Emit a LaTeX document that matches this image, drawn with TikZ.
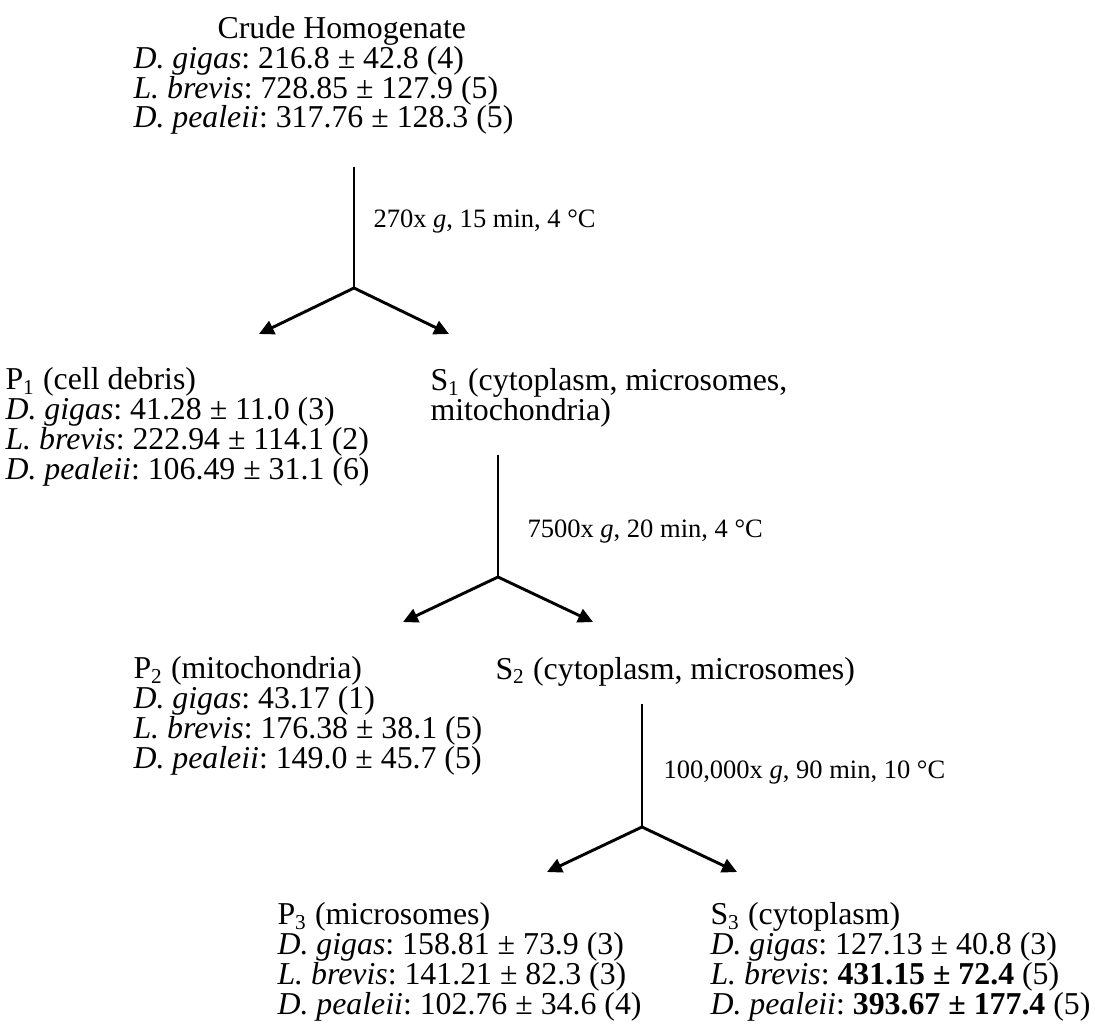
\documentclass[tikz,border=0pt]{standalone}
\usepackage{fontspec}
\setmainfont{Liberation Serif}
\usetikzlibrary{arrows.meta}
\setlength{\lineskiplimit}{-20pt}
\frenchspacing

\newcommand{\spn}[1]{\textit{#1}:}

\begin{document}
\begin{tikzpicture}[x=0.377pt,y=-0.377pt,
  fraction/.style={anchor=base west,align=left,inner sep=0pt,
    font=\fontsize{12}{11.2}\selectfont},
  spinlabel/.style={anchor=base west,inner sep=0pt,font=\fontsize{10}{12}\selectfont},
  stemline/.style={line width=1.1pt},
  splitarrow/.style={line width=1.1pt,-{Triangle[length=5.6pt,width=5.4pt]}}]
  \useasboundingbox (0,0) rectangle (1095,1034);

  % fractions, placed by the baseline of their last line
  \node[fraction] (crude) at (133,128) {\hspace*{31.7pt}Crude Homogenate\\
    \spn{D. gigas} 216.8 ± 42.8 (4)\\
    \spn{L. brevis} 728.85 ± 127.9 (5)\\
    \spn{D. pealeii} 317.76 ± 128.3 (5)};
  \node[fraction] (p1) at (5,479) {P\textsubscript{1} (cell debris)\\
    \spn{D. gigas} 41.28 ± 11.0 (3)\\
    \spn{L. brevis} 222.94 ± 114.1 (2)\\
    \spn{D. pealeii} 106.49 ± 31.1 (6)};
  \node[fraction] (s1) at (430,420) {S\textsubscript{1} (cytoplasm, microsomes,\\
    mitochondria)};
  \node[fraction] (p2) at (133,768) {P\textsubscript{2} (mitochondria)\\
    \spn{D. gigas} 43.17 (1)\\
    \spn{L. brevis} 176.38 ± 38.1 (5)\\
    \spn{D. pealeii} 149.0 ± 45.7 (5)};
  \node[fraction] (s2) at (495,679) {S\textsubscript{2} (cytoplasm, microsomes)};
  \node[fraction] (p3) at (277,1014) {P\textsubscript{3} (microsomes)\\
    \spn{D. gigas} 158.81 ± 73.9 (3)\\
    \spn{L. brevis} 141.21 ± 82.3 (3)\\
    \spn{D. pealeii} 102.76 ± 34.6 (4)};
  \node[fraction] (s3) at (710,1014) {S\textsubscript{3} (cytoplasm)\\
    \spn{D. gigas} 127.13 ± 40.8 (3)\\
    \spn{L. brevis} \textbf{431.15 ± 72.4} (5)\\
    \spn{D. pealeii} \textbf{393.67 ± 177.4} (5)};

  % spins
  \coordinate (top1) at (354,167);
  \coordinate (fork1) at (354,288);
  \coordinate (left1) at (259,334);
  \coordinate (right1) at (449,334);
  \coordinate (top2) at (498,455);
  \coordinate (fork2) at (498,577);
  \coordinate (left2) at (403,622);
  \coordinate (right2) at (593,622);
  \coordinate (top3) at (642,704);
  \coordinate (fork3) at (642,827);
  \coordinate (left3) at (547,872);
  \coordinate (right3) at (737,872);
  \foreach \i in {1,2,3}{
    \draw[stemline] (top\i) -- (fork\i);
    \draw[splitarrow] (fork\i) -- (left\i);
    \draw[splitarrow] (fork\i) -- (right\i);
  }
  \node[spinlabel] (spin1) at (373,227) {270x \textit{g}, 15 min, 4 °C};
  \node[spinlabel] (spin2) at (527,537) {7500x \textit{g}, 20 min, 4 °C};
  \node[spinlabel] (spin3) at (663,778) {100,000x \textit{g}, 90 min, 10 °C};
\end{tikzpicture}
\end{document}
